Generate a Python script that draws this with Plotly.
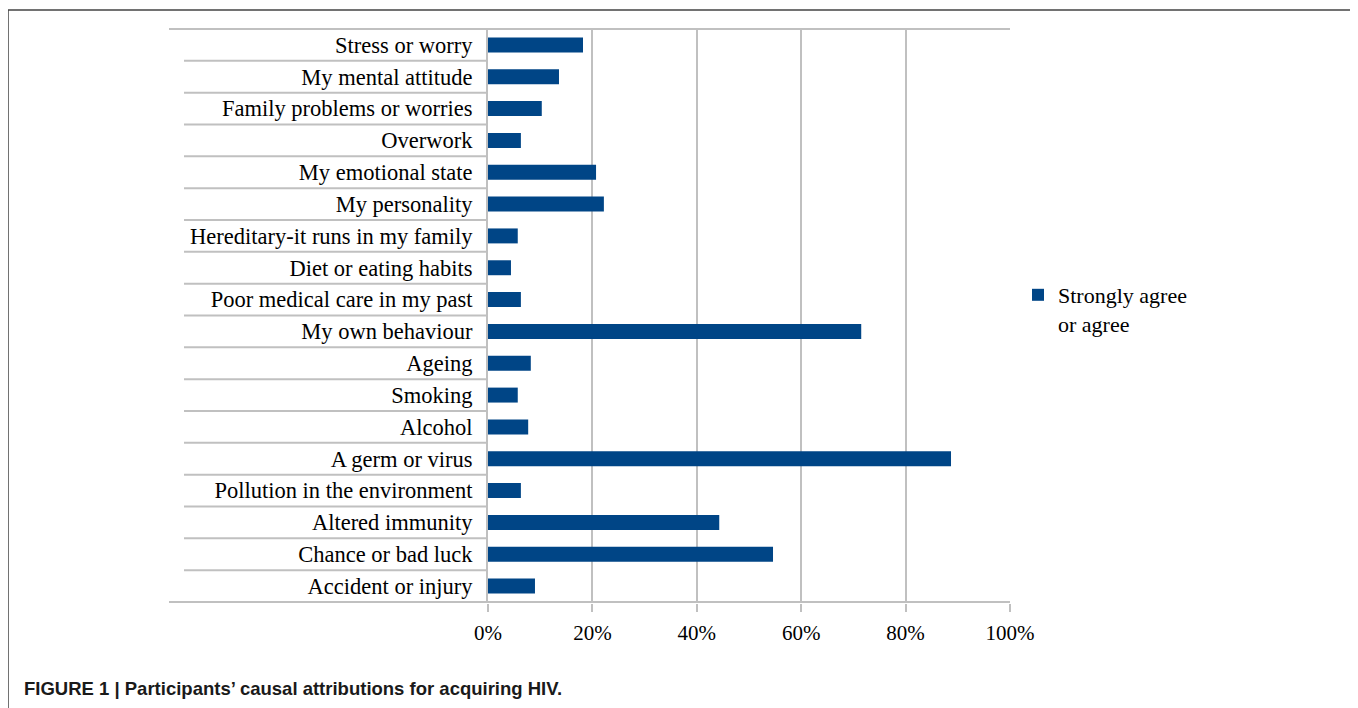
import plotly.graph_objects as go

categories = [
    "Stress or worry", "My mental attitude", "Family problems or worries", "Overwork",
    "My emotional state", "My personality", "Hereditary-it runs in my family",
    "Diet or eating habits", "Poor medical care in my past", "My own behaviour",
    "Ageing", "Smoking", "Alcohol", "A germ or virus", "Pollution in the environment",
    "Altered immunity", "Chance or bad luck", "Accident or injury",
]
values = [0.182, 0.136, 0.103, 0.063, 0.207, 0.222, 0.057, 0.044, 0.063, 0.715,
          0.082, 0.057, 0.077, 0.887, 0.063, 0.443, 0.546, 0.090]
series_name = "Strongly agree<br>or agree"
tick_vals = [0, 0.2, 0.4, 0.6, 0.8, 1.0]
caption = "<b>FIGURE 1 | Participants\u2019 causal attributions for acquiring HIV.</b>"

OFF = 8  # page body margin
W, H = 1358 - OFF, 708 - OFF
# plot area in page pixel coordinates
L, R, T, B = 488, 1010, 28, 603
GRID = "#c0c0c0"
SERIF = "Liberation Serif, Times New Roman, serif"

def px_x(px):
    return (px - L) / (R - L)

def px_y(py):
    return (B - py) / (B - T)

fig = go.Figure()
fig.add_trace(go.Bar(
    y=categories, x=values, orientation="h", name=series_name,
    marker=dict(color="#004586", line=dict(width=0)),
    showlegend=True,
))

shapes = []
# category separators
for i in range(1, len(categories)):
    shapes.append(dict(type="line", xref="paper", yref="y",
                       x0=px_x(184), x1=0, y0=i - 0.5, y1=i - 0.5,
                       line=dict(color=GRID, width=2), layer="below"))
# top and bottom boundary lines
for yv in (-0.5, len(categories) - 0.5):
    shapes.append(dict(type="line", xref="paper", yref="y",
                       x0=px_x(169), x1=1, y0=yv, y1=yv,
                       line=dict(color=GRID, width=2), layer="below"))
# outer frame
shapes.append(dict(type="rect", xref="paper", yref="paper",
                   x0=px_x(8), x1=px_x(1355), y0=px_y(760), y1=px_y(10),
                   line=dict(color="#444444", width=1.5), fillcolor="rgba(0,0,0,0)"))

fig.update_layout(
    width=W, height=H,
    margin=dict(l=L - OFF, r=(W + OFF) - R, t=T - OFF, b=(H + OFF) - B, pad=0),
    paper_bgcolor="white", plot_bgcolor="white",
    bargap=0.53,
    shapes=shapes,
    font=dict(family=SERIF, size=22, color="black"),
    xaxis=dict(
        range=[0, 1], tickvals=tick_vals, tickformat=".0%",
        showgrid=True, gridcolor=GRID, gridwidth=2,
        ticks="outside", ticklen=8, tickcolor=GRID, tickwidth=2,
        showline=False, zeroline=False,
        ticklabelstandoff=3,
        tickfont=dict(family=SERIF, size=21, color="black"),
        fixedrange=True,
    ),
    yaxis=dict(
        autorange="reversed", type="category",
        showgrid=False, zeroline=False,
        showline=True, linecolor=GRID, linewidth=2,
        ticks="", ticklabelstandoff=9,
        tickfont=dict(family=SERIF, size=22.5, color="black"),
        fixedrange=True,
    ),
    legend=dict(
        x=px_x(1018), y=px_y(274), xanchor="left", yanchor="top",
        valign="top",
        font=dict(family=SERIF, size=22, color="black"),
        bgcolor="rgba(0,0,0,0)", itemwidth=30,
    ),
    annotations=[dict(
        text=caption, xref="paper", yref="paper",
        x=px_x(22), y=px_y(688), xanchor="left", yanchor="middle",
        showarrow=False,
        font=dict(family="Liberation Sans, Arial, sans-serif",
                  size=18.5, color="#1a1a1a"),
    )],
)

fig.write_html("out.html")
